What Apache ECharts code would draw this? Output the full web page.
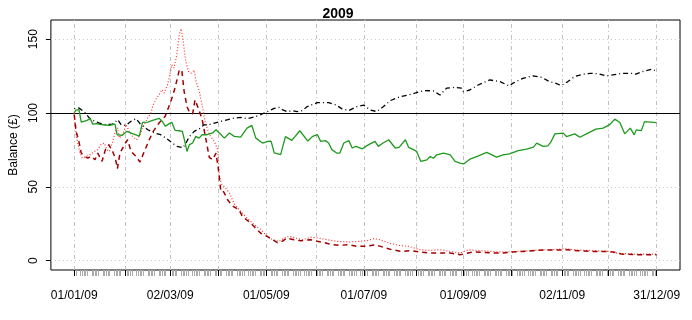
<!DOCTYPE html>
<html>
<head>
<meta charset="utf-8">
<script src="https://cdn.jsdelivr.net/npm/echarts@6/dist/echarts.min.js"></script>
<style>
html, body { margin: 0; padding: 0; background: #fff; }
#chart { width: 692px; height: 320px; }
</style>
</head>
<body>
<div id="chart"></div>
<script>
// x values are days since 01/01/2009
const greenDays = [0,1,3,4.4,6,8,10,11.6,14,16,19,22,25.5,26.8,30,33,36.5,40.7,42.7,46,49,53,55,57,59,61,63,65.6,67.6,69,70.5,72,74,76,78,80,83,86.5,88.6,90.7,93.8,97,100,104,108,111,113.5,117.7,121,123,125,129,132,136,141,146,149,152,154,157,159,161,164,166,168.5,171.6,173.7,176,180,184,188,190,193,196.5,200.6,203,207,209,212,214,216.6,220.4,222.5,224.5,226.6,230.8,235,238,241,243.6,247.4,252.6,257.8,261,264,268,272,277.5,282.7,287,289,293,296,298,300.4,305.6,307.6,312.8,316,321,326,330.5,334.6,337.8,341,344,347.5,350,351.2,354.4,356.4,364];
const greenVals = [100,102,102.3,93.9,94.4,95,96.2,92.5,92.8,92.3,91.9,91.6,92.5,85.3,84.9,87.6,86,84.4,93.7,93.9,95,96.4,94.4,91,92.5,93.7,88.3,88,87.6,81.3,74,78.6,79.7,84.2,83,85.3,85.3,86.5,88.7,86.5,83,86.5,84.2,83.7,89.8,91.6,83,79.7,80.8,81,73,71.8,84,81.5,88,81,84.2,85.3,80.8,81.3,79.7,75.2,72.9,72.9,79.7,81.3,76.3,77.4,75.8,78.6,80.8,77.4,79.7,81.9,76.3,76.7,81.9,76.7,75.2,74,67.2,68.3,70.6,69.4,71.7,72.8,71.7,67.2,66.1,65.6,68.8,71,73.3,71.7,70.1,71.7,72.4,74.6,75.5,76.9,79.6,77.4,77.8,80.7,85.9,86.4,84.1,85.9,83.6,86.4,89.1,89.8,92.1,95.9,93.6,85.9,89.8,85.2,88.6,88.1,94.2,93.5];

const blackDays = [0,3,6.4,9.5,12.7,15.8,20,24,27.2,29.3,32.4,35.5,38.6,41.7,46,50,54,57.3,61,64,68,70,72,75,79,81,84,87.6,91.7,96,100,104,108,111.4,115.6,118.7,121.8,125,128,130,133,136.3,139.4,142.6,145.6,151.9,159,163.3,167.4,171.6,176.7,181,185,189,193.3,197.5,203.7,209,214,219,224.4,228.6,232.7,238,242,243.1,247.2,252.4,259.7,266,272,274,280.4,286.7,292,297,301,304.4,308.5,312.7,317.8,323,328,332.4,336.5,342.7,349,351,355,361.4,364];
const blackVals = [103,103.4,100.7,96.6,94.4,93.2,92.1,92.5,95.5,92.1,91.6,94.4,96.2,92.1,88.7,86.5,85.3,83,80,77.5,76.5,80,84,87.6,89.8,92,92,93.2,94.4,95.5,96.6,97,96.2,97,98.4,100,101.6,103.2,103.8,102.3,100.9,101.6,101,101.6,104.4,107,107,105.6,102.8,101.7,104.4,105.3,102.1,101,104.4,108.4,111.1,112.2,113.9,115.2,115,112.2,116.8,117.4,116.8,114.5,115.6,119,122.4,121.3,118.3,120.1,123.5,125.1,124.2,121.3,120.1,118.6,121.3,124.7,126.3,126.9,126.5,125.1,125.8,126.9,126.9,126.3,128.1,129.7,128.1];

const darkRedDays = [0,1.2,2.9,4.4,6.4,8.5,10.6,13,14.7,17.4,19.5,21.6,24,25.7,27,28.6,30.3,32,33.4,35.5,38.6,41.1,43.8,46.9,49.4,53,56.8,60.4,63,65.6,67.2,68.7,70.5,72,74,75.5,78,80,82.4,84.4,86.5,88.6,90,91.7,93.4,95.9,99,103.1,105.2,109.3,112.5,116.6,120.8,124,127,130,133,137.4,141.5,147.7,151.9,157.1,161.2,165.4,171.6,176.8,182,188.2,193.4,198.6,204.8,210,216.2,222.5,228.7,234.9,241.1,243.2,249.4,255.7,261.9,268.1,274.3,280.6,286.8,293,302.4,307.6,314.9,323.2,331.5,336.7,341.9,350.2,358.5,364];
const darkRedVals = [99,87.6,80.8,72.9,70.7,69.5,70.7,68.4,72.9,67.3,75.2,78.6,74,69.5,62.3,72.9,76.3,79.7,81.9,74,70.7,66.8,74,81.9,87.6,93.2,97.7,107.9,116.9,128.7,129.3,114.7,104.3,100.7,99.5,108.9,102,95.3,81.8,70,68.4,72.8,62.8,46.7,46.7,41.1,37.1,34.3,29.8,26.4,23,18.6,16.3,14.2,12.2,13.1,15.3,14.2,13.5,14.2,13.1,12,10.8,10.4,10.8,9.7,9.7,10.8,9,7.4,6.3,6.8,5.9,5.2,5.2,5.2,4.1,4.5,5.9,5.6,5.2,5.2,5.9,6.3,6.8,7.2,7.2,7.4,6.8,6.3,6.3,5.9,4.5,4.1,4.1,4.1];

const redDays = [0,1.2,3.3,5,7.5,10,12.7,14.7,16.8,18.9,20.3,22,24.1,25.7,27.2,28.2,30.3,32.4,34.4,36.5,39,41.1,42.7,45.9,47.9,49.4,51.5,53.1,54.8,56.2,58.3,59.8,61,62.4,64.1,65.6,66.8,68.1,69.7,71.4,73,75,76.1,78.2,80.3,81.7,84.4,87.6,89.7,90.7,92,94.8,96.9,100,103,106,109.3,112.5,116.6,119.7,123.9,128,131.1,134.3,138.4,142.6,147.7,152.9,158.1,164.3,171.6,177.8,183,187.2,191.3,196.5,202.7,209,216.2,222.5,228.7,234.9,241.1,246.3,251.5,259.8,268.1,276.4,284.7,293,298.3,306.6,314.9,325.3,333.6,339.8,350.2,364];
const redVals = [100,85.3,74,69.5,70.7,71.8,74,75.2,78.6,79.7,75.2,74,80.8,87.6,89.8,83,85.3,92.1,87.6,84.2,81.9,85.3,89.8,96.6,100,105.6,110.2,112.4,115.8,113.5,119.2,126,132.7,130.5,139.5,153,157.1,148.5,135,128.2,127,129,121.4,114.7,103.4,94.4,85.3,80.8,75,57,52,49,46,38.5,34.5,31.2,27.6,24.4,21,17.6,14.2,13.1,15.3,16.5,15.3,14.2,15.8,15.3,14.2,13.1,12.6,13.1,13.5,14.9,14.2,12,10.4,9.7,7.4,7,7.4,6.3,5.2,7.4,7,6.3,5.9,6.3,6.8,7.4,7.4,8.1,7.2,6.8,6.3,5,4.5,4.5];

// axis ticks
const monthStarts = ['2009-01-01','2009-02-02','2009-03-02','2009-04-01','2009-05-01','2009-06-01','2009-07-01','2009-08-03','2009-09-01','2009-10-01','2009-11-02','2009-12-01','2009-12-31'];
const labelDates = ['2009-01-01','2009-03-02','2009-05-01','2009-07-01','2009-09-01','2009-11-02','2009-12-31'];
const yTicks = [0, 50, 100, 150];

const start = Date.UTC(2009, 0, 1);
function dayOf(s) {
	const p = s.split('-');
	return Math.round((Date.UTC(+p[0], +p[1] - 1, +p[2]) - start) / 86400000);
}
function fmt(day) {
	const d = new Date(start + Math.round(day) * 86400000);
	const pad = n => (n < 10 ? '0' : '') + n;
	return pad(d.getUTCDate()) + '/' + pad(d.getUTCMonth() + 1) + '/' + pad(d.getUTCFullYear() % 100);
}
function zip(xs, ys) {
	return xs.map((x, i) => [x, ys[i]]);
}

const monthDays = monthStarts.map(dayOf);
const labelDays = labelDates.map(dayOf);
// weekday minor ticks
const weekdays = [];
for (let d = 0; d <= 364; d++) {
	const wd = new Date(start + d * 86400000).getUTCDay();
	if (wd !== 0 && wd !== 6) weekdays.push(d);
}

const xMin = -14.56, xMax = 378.56;
const font = 'Liberation Sans, Arial, sans-serif';

const gridLines = monthDays.map(d => ({ xAxis: d, lineStyle: { color: '#c0c0c0', type: [4, 3, 1, 3], width: 1 } }))
	.concat(yTicks.map(v => ({ yAxis: v, lineStyle: { color: '#c8c8c8', type: [1, 3], width: 1 } })))
	.concat([{ yAxis: 100, lineStyle: { color: '#000', type: 'solid', width: 1.2 } }]);

const chart = echarts.init(document.getElementById('chart'), null, { renderer: 'canvas' });
chart.setOption({
	animation: false,
	backgroundColor: '#fff',
	title: {
		text: '2009',
		left: 333,
		top: 2,
		textAlign: 'center',
		textStyle: { fontFamily: font, fontSize: 14, fontWeight: 'bold', color: '#000' }
	},
	grid: {
		left: 49, right: 12, top: 20, bottom: 50,
		show: true, borderColor: '#000', borderWidth: 1, backgroundColor: 'transparent'
	},
	xAxis: [{
		type: 'value', min: xMin, max: xMax, position: 'bottom', z: 3,
		axisLine: { show: false, onZero: false },
		axisTick: { show: true, customValues: monthDays, length: 6, lineStyle: { color: '#000', width: 1 } },
		axisLabel: {
			customValues: labelDays, margin: 20, formatter: v => fmt(v),
			fontFamily: font, fontSize: 12, color: '#000'
		},
		splitLine: { show: false }
	}, {
		type: 'value', min: xMin, max: xMax, position: 'bottom', z: 2,
		axisLine: { show: false, onZero: false },
		axisTick: { show: true, customValues: weekdays, length: 6, lineStyle: { color: '#aaa', width: 1 } },
		axisLabel: { show: false },
		splitLine: { show: false }
	}],
	yAxis: {
		type: 'value', min: -6.3, max: 163, position: 'left',
		name: 'Balance (£)', nameLocation: 'middle', nameGap: 30, nameRotate: 90,
		nameTextStyle: { fontFamily: font, fontSize: 12, color: '#000' },
		axisLine: { show: false, onZero: false },
		axisTick: { show: true, customValues: yTicks, length: 5, lineStyle: { color: '#000' } },
		axisLabel: { customValues: yTicks, rotate: 90, margin: 11, fontFamily: font, fontSize: 12, color: '#000' },
		splitLine: { show: false }
	},
	series: [{
		name: 'red', type: 'line', data: zip(redDays, redVals), showSymbol: false,
		lineStyle: { color: '#ff3030', width: 1.2, type: [1, 2] },
		markLine: { silent: true, symbol: 'none', z: 1, label: { show: false }, data: gridLines }
	}, {
		name: 'darkred', type: 'line', data: zip(darkRedDays, darkRedVals), showSymbol: false,
		lineStyle: { color: '#a00000', width: 1.5, type: [5, 4] }
	}, {
		name: 'black', type: 'line', data: zip(blackDays, blackVals), showSymbol: false,
		lineStyle: { color: '#000', width: 1.3, type: [1, 3, 5, 3] }
	}, {
		name: 'green', type: 'line', data: zip(greenDays, greenVals), showSymbol: false,
		lineStyle: { color: '#1f9a1f', width: 1.3 }
	}]
});
</script>
</body>
</html>
